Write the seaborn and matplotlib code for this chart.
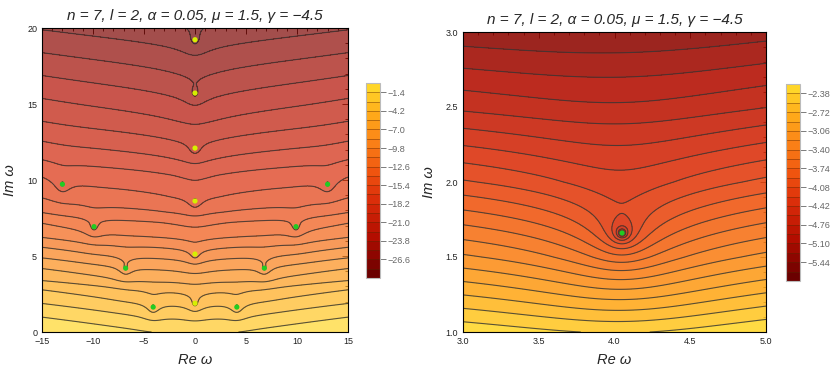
import numpy as np
import matplotlib
matplotlib.use("Agg")
import matplotlib.pyplot as plt
import seaborn as sns
from matplotlib.colors import LinearSegmentedColormap, BoundaryNorm
from matplotlib.cm import ScalarMappable
from matplotlib.ticker import MultipleLocator, FormatStrFormatter

# ---------------- data ----------------
title_text = "n = 7, l = 2, α = 0.05, μ = 1.5, γ = −4.5"

# left panel: zeros (dots)
left_center_re = [0.0, 0.0, 0.0, 0.0, 0.0, 0.0]
left_center_im = [1.89, 5.13, 8.62, 12.10, 15.72, 19.23]
left_side_re = [-4.1, 4.1, -6.8, 6.8, -9.9, 9.9, -13.0, 13.0]
left_side_im = [1.64, 1.64, 4.2, 4.2, 6.93, 6.93, 9.72, 9.72]
# left panel: contour crossings at the left edge (Im w) and their levels
left_edge_im = [0.0, 1.0, 1.9, 2.8, 3.4, 4.2, 4.9, 5.6, 6.25, 7.2, 7.9, 8.9,
                10.3, 11.4, 12.6, 13.9, 15.4, 16.9, 18.4, 19.9, 20.0]
left_edge_val = [0.0, -1.4, -2.8, -4.2, -5.6, -7.0, -8.4, -9.8, -11.2, -12.6,
                 -14.0, -15.4, -16.8, -18.2, -19.6, -21.0, -22.4, -23.8,
                 -25.2, -26.6, -26.7]
left_cbar_ticks = [-1.4, -4.2, -7.0, -9.8, -12.6, -15.4, -18.2, -21.0, -23.8, -26.6]
left_cbar_labels = ["−1.4", "−4.2", "−7.0", "−9.8", "−12.6", "−15.4", "−18.2",
                    "−21.0", "−23.8", "−26.6"]
left_levels = [-29.4, -28.0, -26.6, -25.2, -23.8, -22.4, -21.0, -19.6, -18.2,
               -16.8, -15.4, -14.0, -12.6, -11.2, -9.8, -8.4, -7.0, -5.6,
               -4.2, -2.8, -1.4, 0.0]

# right panel: zero and edge profile
right_re = [4.05]
right_im = [1.66]
right_edge_im = [1.0, 1.5, 2.0, 2.5, 3.0]
right_edge_val = [-2.25, -3.20, -4.06, -4.80, -5.38]
right_cbar_ticks = [-2.38, -2.72, -3.06, -3.40, -3.74, -4.08, -4.42, -4.76, -5.10, -5.44]
right_cbar_labels = ["−2.38", "−2.72", "−3.06", "−3.40", "−3.74", "−4.08", "−4.42",
                     "−4.76", "−5.10", "−5.44"]
right_levels = [-5.78, -5.61, -5.44, -5.27, -5.10, -4.93, -4.76, -4.59, -4.42,
                -4.25, -4.08, -3.91, -3.74, -3.57, -3.40, -3.23, -3.06, -2.89,
                -2.72, -2.55, -2.38, -2.21]

# ---------------- style ----------------
sns.set_theme(style="white")
plt.rcParams["font.family"] = ["Liberation Sans", "DejaVu Sans"]
plt.rcParams["contour.negative_linestyle"] = "solid"

cmap = LinearSegmentedColormap.from_list(
    "sunset",
    [(0.0, (0.42, 0.0, 0.0)), (0.2, (0.70, 0.05, 0.0)), (0.4, (0.86, 0.18, 0.04)),
     (0.55, (0.94, 0.33, 0.06)), (0.7, (0.98, 0.50, 0.09)), (0.85, (1.0, 0.66, 0.10)),
     (1.0, (1.0, 0.84, 0.16))])

fig = plt.figure(figsize=(8.31, 3.68), dpi=100)
axL = fig.add_axes([42 / 831, 1 - 332 / 368, 306 / 831, 304 / 368])
axR = fig.add_axes([463 / 831, 1 - 332 / 368, 303 / 831, 300 / 368])
caxL = fig.add_axes([366 / 831, 1 - 278 / 368, 14 / 831, 195 / 368])
caxR = fig.add_axes([786 / 831, 1 - 281 / 368, 14 / 831, 197 / 368])

# ---------------- left field ----------------
zl = np.array(left_center_re + left_side_re) + 1j * np.array(left_center_im + left_side_im)
wL = 0.15      # long-range weight (V shape)
wc = 0.55      # short-range weight (cusps)
sc = 1.2
xl = np.linspace(-15, 15, 900)
yl = np.linspace(0, 20, 600)
XL, YL = np.meshgrid(xl, yl)
W = XL + 1j * YL
S = sum(np.log(np.abs(W - z) + 1e-9) for z in zl)
S_edge = sum(np.log(np.abs(-15 + 1j * yl - z)) for z in zl)
C = sum(0.5 * np.log((np.abs(W - z) ** 2 + 1e-12) / (np.abs(W - z) ** 2 + sc ** 2)) for z in zl)
FL = np.interp(YL, left_edge_im, left_edge_val) + wL * (S - S_edge[:, None]) + wc * C

normL = BoundaryNorm(left_levels, 256)
axL.contourf(XL, YL, FL, levels=left_levels, cmap=cmap, norm=normL, alpha=0.7,
             extend="both")
axL.contour(XL, YL, FL, levels=left_levels, colors="#3a3a3a", linewidths=0.8,
            alpha=0.85, linestyles="solid")
sns.scatterplot(x=left_center_re, y=left_center_im, color="#d6f000", s=14,
                edgecolor="none", ax=axL, zorder=5, legend=False)
sns.scatterplot(x=left_side_re, y=left_side_im, color="#22cc22", s=14,
                edgecolor="none", ax=axL, zorder=5, legend=False)

# ---------------- right field ----------------
wR = 0.27
w2, s2 = 0.12, 0.06
tR = 0.025
xr = np.linspace(3, 5, 1000)
yr = np.linspace(1, 3, 1000)
XR, YR = np.meshgrid(xr, yr)
z0 = right_re[0] + 1j * right_im[0]
R2 = np.abs(XR + 1j * YR - z0) ** 2 + 1e-12
LR = 0.5 * np.log(R2)
LR_edge = np.log(np.abs(3 + 1j * yr - z0))
FR = (np.interp(YR, right_edge_im, right_edge_val) + wR * (LR - LR_edge[:, None])
      + w2 * 0.5 * np.log(R2 / (R2 + s2 ** 2)) + tR * (XR - 3))

normR = BoundaryNorm(right_levels, 256)
axR.contourf(XR, YR, FR, levels=right_levels, cmap=cmap, norm=normR, extend="both",
             alpha=0.88)
axR.contour(XR, YR, FR, levels=right_levels, colors="#3a3a3a", linewidths=0.8,
            alpha=0.85, linestyles="solid")
sns.scatterplot(x=right_re, y=right_im, color="#22cc22", s=14, edgecolor="none",
                ax=axR, zorder=5, legend=False)

# ---------------- axes cosmetics ----------------
for ax, xlim, ylim in [(axL, (-15, 15), (0, 20)), (axR, (3, 5), (1, 3))]:
    ax.set_xlim(*xlim)
    ax.set_ylim(*ylim)
    ax.set_title(title_text, fontsize=11, style="italic", pad=6)
    ax.set_xlabel("Re ω", fontsize=10.5, style="italic", labelpad=5)
    ax.set_ylabel("Im ω", fontsize=10.5, style="italic", labelpad=7)
    ax.tick_params(which="both", direction="in", top=True, right=True,
                   labelsize=6.5, colors="#222222", width=0.7)
    ax.tick_params(axis="x", pad=3.5)
    ax.tick_params(axis="y", pad=3.5)
    ax.tick_params(which="major", length=4)
    ax.tick_params(which="minor", length=2.2)
    for sp in ax.spines.values():
        sp.set_color("black")
        sp.set_linewidth(0.8)
        sp.set_visible(True)

axL.xaxis.set_major_locator(MultipleLocator(5))
axL.xaxis.set_minor_locator(MultipleLocator(1))
axL.yaxis.set_major_locator(MultipleLocator(5))
axL.yaxis.set_minor_locator(MultipleLocator(1))
axR.xaxis.set_major_locator(MultipleLocator(0.5))
axR.xaxis.set_minor_locator(MultipleLocator(0.1))
axR.yaxis.set_major_locator(MultipleLocator(0.5))
axR.yaxis.set_minor_locator(MultipleLocator(0.1))
axR.xaxis.set_major_formatter(FormatStrFormatter("%.1f"))
axR.yaxis.set_major_formatter(FormatStrFormatter("%.1f"))

# ---------------- colorbars ----------------
for cax, levels, ticks, labels, norm in [
        (caxL, left_levels, left_cbar_ticks, left_cbar_labels, normL),
        (caxR, right_levels, right_cbar_ticks, right_cbar_labels, normR)]:
    sm = ScalarMappable(norm=norm, cmap=cmap)
    cb = fig.colorbar(sm, cax=cax, boundaries=levels, ticks=ticks, drawedges=True)
    cb.dividers.set_color("#5a2a00")
    cb.dividers.set_linewidth(0.5)
    cb.dividers.set_alpha(0.6)
    cb.outline.set_edgecolor("#bbbbbb")
    cb.outline.set_linewidth(0.8)
    cax.tick_params(labelsize=6.5, colors="#666666", length=4, width=0.6, pad=1.5,
                    direction="out")
    cb.set_ticklabels(labels)
    cax.minorticks_off()

fig.savefig("out.png", dpi=100)
